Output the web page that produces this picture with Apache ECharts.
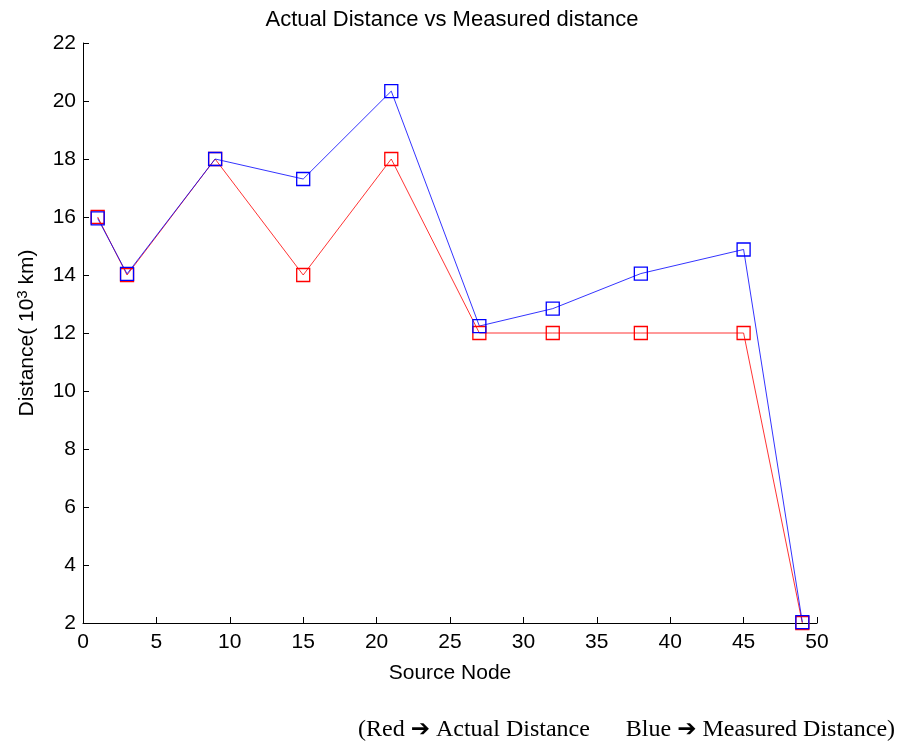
<!DOCTYPE html>
<html>
<head>
<meta charset="utf-8">
<script src="https://cdn.jsdelivr.net/npm/echarts@6/dist/echarts.min.js"></script>
<style>
  html, body { margin: 0; padding: 0; background: #fff; }
  #chart { width: 904px; height: 747px; }
</style>
</head>
<body>
<div id="chart"></div>
<script>
// Source node numbers along the x axis
const sourceNodes = [1, 3, 9, 15, 21, 27, 32, 38, 45, 49];
// Distances in thousands of km
const actualDistance = [16, 14, 18, 14, 18, 12, 12, 12, 12, 2];
const measuredDistance = [15.95, 14.04, 18, 17.31, 20.34, 12.24, 12.84, 14.05, 14.88, 2.03];

const pairs = (xs, ys) => xs.map((x, i) => [x, ys[i]]);

const chart = echarts.init(document.getElementById('chart'), null, { renderer: 'canvas' });

const sans = 'Liberation Sans, Arial, sans-serif';
const axisFont = { fontFamily: sans, fontSize: 21, color: '#000' };

function lineSeries(name, color, data) {
  return {
    name: name,
    type: 'line',
    data: data,
    symbol: 'rect',
    symbolSize: 13,
    showAllSymbol: true,
    lineStyle: { color: color, width: 1, opacity: 0.8 },
    itemStyle: { color: 'rgba(0,0,0,0)', borderColor: color, borderWidth: 1.3 },
    emphasis: { disabled: true },
    animation: false
  };
}

chart.setOption({
  backgroundColor: '#fff',
  animation: false,
  title: {
    text: 'Actual Distance vs Measured distance',
    left: 'center',
    top: 4,
    textStyle: { fontFamily: sans, fontSize: 22, fontWeight: 'normal', color: '#000' }
  },
  grid: { left: 83, right: 87, top: 43, bottom: 124, containLabel: false },
  xAxis: {
    type: 'value',
    min: 0, max: 50, interval: 5,
    name: 'Source Node',
    nameLocation: 'middle',
    nameGap: 40,
    nameTextStyle: axisFont,
    axisLine: { show: true, onZero: false, lineStyle: { color: '#000', width: 1 } },
    axisTick: { show: true, inside: true, length: 6, lineStyle: { color: '#000' } },
    axisLabel: Object.assign({ margin: 9 }, axisFont),
    splitLine: { show: false }
  },
  yAxis: {
    type: 'value',
    min: 2, max: 22, interval: 2,
    name: 'Distance( 10{sup|3} km)',
    nameLocation: 'middle',
    nameGap: 43,
    nameRotate: 90,
    nameTextStyle: Object.assign({
      rich: {
        sup: { fontFamily: sans, fontSize: 15, color: '#000', verticalAlign: 'bottom', padding: [0, 0, 10, 0] }
      }
    }, axisFont),
    axisLine: { show: true, onZero: false, lineStyle: { color: '#000', width: 1 } },
    axisTick: { show: true, inside: true, length: 6, lineStyle: { color: '#000' } },
    axisLabel: Object.assign({ margin: 7 }, axisFont),
    splitLine: { show: false }
  },
  graphic: [{
    type: 'text',
    left: 358,
    top: 718,
    style: {
      text: '(Red {a|\u2794} Actual Distance      Blue {a|\u2794} Measured Distance)',
      font: '24px "Liberation Serif", "Times New Roman", serif',
      fill: '#000',
      rich: {
        a: { font: 'bold 23px "DejaVu Sans", sans-serif', fill: '#000' }
      }
    }
  }],
  series: [
    lineSeries('Actual Distance', '#ff0000', pairs(sourceNodes, actualDistance)),
    lineSeries('Measured Distance', '#0000ff', pairs(sourceNodes, measuredDistance))
  ]
});
</script>
</body>
</html>
